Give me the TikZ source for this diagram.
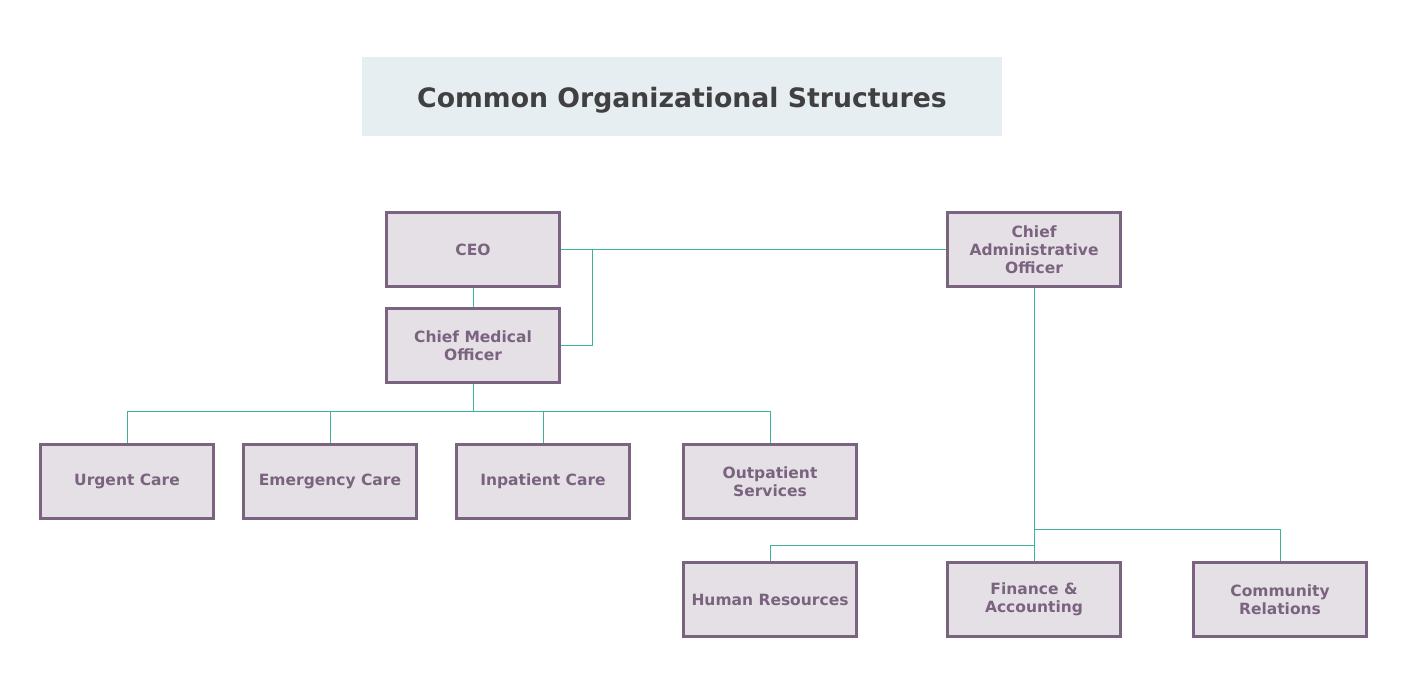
\documentclass[tikz,border=0pt]{standalone}
\usepackage{fontspec}
\setmainfont{DejaVu Sans}
\definecolor{boxfill}{HTML}{E5E0E6}
\definecolor{boxline}{HTML}{7A637E}
\definecolor{linkline}{HTML}{3DB39A}
\definecolor{titlefill}{HTML}{E6EEF2}
\definecolor{titletext}{HTML}{404040}

\begin{document}
\begin{tikzpicture}[x=1pt, y=-1pt,
    orgbox/.style={draw=boxline, fill=boxfill, line width=3pt, minimum width=173pt, minimum height=74pt,
        text=boxline, align=center, font=\fontsize{15.5}{18}\selectfont\bfseries},
    link/.style={draw=linkline, line width=1pt}]
                \useasboundingbox (0,0) rectangle (1406,676);
                \node[fill=titlefill, minimum width=640pt, minimum height=79pt, text depth=0pt, text=titletext, font=\fontsize{26.7}{30}\selectfont\bfseries] (title) at (682,97) {Common Organizational Structures};
                \node[orgbox] (ceo) at (473,249.5) {CEO};
                \node[orgbox] (cmo) at (473,345.5) {Chief Medical\\Officer};
                \node[orgbox] (cao) at (1034,249.5) {Chief\\Administrative\\Officer};
                \node[orgbox] (urgent) at (127,481.5) {Urgent Care};
                \node[orgbox] (emergency) at (330,481.5) {Emergency Care};
                \node[orgbox] (inpatient) at (543,481.5) {Inpatient Care};
                \node[orgbox] (outpatient) at (770,481.5) {Outpatient\\Services};
                \node[orgbox] (hr) at (770,599.5) {Human Resources};
                \node[orgbox] (finance) at (1034,599.5) {Finance \&\\Accounting};
                \node[orgbox] (community) at (1280,599.5) {Community\\Relations};
                % junctions
                \coordinate (ceojoin) at (592,249.5);
                \coordinate (medbus) at (473,411);
                \coordinate (adminbusA) at (1034,529);
                \coordinate (adminbusB) at (1034,545);
                \draw[link] (ceo.south) -- (cmo.north);
                \draw[link] (ceo.east) -- (cao.west);
                \draw[link] (cmo.east) -| (ceojoin);
                \draw[link] (cmo.south) -- (medbus);
                \foreach \unit in {urgent,emergency,inpatient,outpatient}
                    \draw[link] (medbus) -| (\unit.north);
                \draw[link] (cao.south) -- (finance.north);
                \draw[link] (adminbusA) -| (community.north);
                \draw[link] (adminbusB) -| (hr.north);
            \end{tikzpicture}
\end{document}
